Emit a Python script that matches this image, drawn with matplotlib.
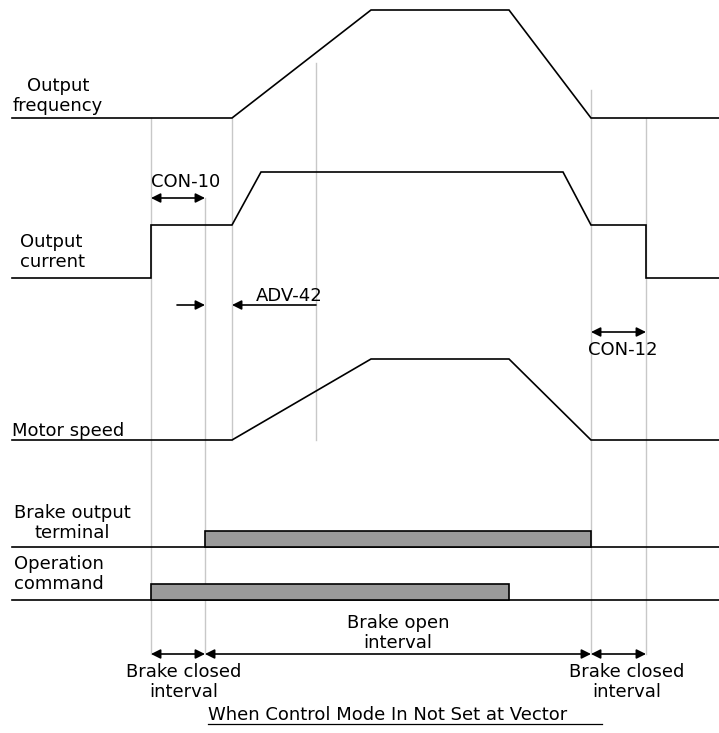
import matplotlib
matplotlib.use("Agg")
import matplotlib.pyplot as plt
from matplotlib.patches import FancyArrowPatch, Rectangle

# Event times along the time axis
t_run_on = 151      # operation command on / current applied
t_brake_open = 205  # brake output on
t_accel = 232       # start of acceleration
t_cur_up = 261      # current reaches full
t_adv = 316         # ADV-42 marker
t_top = 371         # reaches top speed
t_run_off = 509     # operation command off, start decel
t_cur_down = 563    # current starts dropping
t_stop = 591        # zero speed, brake closes
t_off = 646         # current removed
x_start, x_end = 12, 719

# Signal shapes (time, level 0..1)
freq_t = [x_start, t_accel, t_top, t_run_off, t_stop, x_end]
freq_v = [0, 0, 1, 1, 0, 0]
cur_t = [x_start, t_run_on, t_run_on, t_accel, t_cur_up, t_cur_down, t_stop, t_off, t_off, x_end]
cur_v = [0, 0, 0.5, 0.5, 1, 1, 0.5, 0.5, 0, 0]
spd_t = [x_start, t_accel, t_top, t_run_off, t_stop, x_end]
spd_v = [0, 0, 1, 1, 0, 0]

# Rows: baseline and full-scale height
rows = {
    "freq": (118, 108),
    "cur": (278, 106),
    "spd": (440, 81),
    "brake": (547, 16),
    "cmd": (600, 16),
}

fig = plt.figure(figsize=(7.19, 7.33), dpi=100)
ax = fig.add_axes([0, 0, 1, 1])
ax.set_xlim(0, 719)
ax.set_ylim(733, 0)
ax.axis("off")

gray = "#c8c8c8"
lw = 1.2
fs = 13

# vertical guide lines (x, y_top, y_bottom)
guides = [
    (t_run_on, 118, 654),
    (t_brake_open, 198, 654),
    (t_accel, 118, 440),
    (t_adv, 63, 440),
    (t_stop, 90, 654),
    (t_off, 118, 654),
]
for gx, y0, y1 in guides:
    ax.plot([gx, gx], [y0, y1], color=gray, lw=1.0, zorder=1)

def plot_sig(ts, vs, row):
    base, h = rows[row]
    ax.plot(ts, [base - v * h for v in vs], color="black", lw=lw, zorder=3,
            solid_joinstyle="miter")

plot_sig(freq_t, freq_v, "freq")
plot_sig(cur_t, cur_v, "cur")
plot_sig(spd_t, spd_v, "spd")

# digital signals as filled bars
for row, (a, b) in [("brake", (t_brake_open, t_stop)), ("cmd", (t_run_on, t_run_off))]:
    base, h = rows[row]
    ax.plot([x_start, x_end], [base, base], color="black", lw=lw, zorder=2)
    ax.add_patch(Rectangle((a, base - h), b - a, h, facecolor="#9a9a9a",
                           edgecolor="black", lw=lw, zorder=3))

def arrow(x0, x1, y, style):
    ax.add_patch(FancyArrowPatch((x0, y), (x1, y), arrowstyle=style,
                                 mutation_scale=14, color="black", lw=lw,
                                 shrinkA=0, shrinkB=0, zorder=4))

arrow(t_run_on, t_brake_open, 198, "<|-|>")
arrow(177, t_brake_open, 305, "-|>")
arrow(t_adv, t_accel, 305, "-|>")
arrow(t_stop, t_off, 332, "<|-|>")
arrow(t_run_on, t_brake_open, 654, "<|-|>")
arrow(t_brake_open, t_stop, 654, "<|-|>")
arrow(t_stop, t_off, 654, "<|-|>")

# labels
ax.text(151, 182, "CON-10", fontsize=fs, va="center", ha="left")
ax.text(256, 296, "ADV-42", fontsize=fs, va="center", ha="left")
ax.text(623, 350, "CON-12", fontsize=fs, va="center", ha="center")

ax.text(58, 96, "Output\nfrequency", fontsize=fs, va="center", ha="center",
        linespacing=1.2)
ax.text(20, 252, "Output\ncurrent", fontsize=fs, va="center", ha="left",
        linespacing=1.2)
ax.text(12, 431, "Motor speed", fontsize=fs, va="center", ha="left")
ax.text(72, 523, "Brake output\nterminal", fontsize=fs, va="center", ha="center",
        linespacing=1.2)
ax.text(14, 574, "Operation\ncommand", fontsize=fs, va="center", ha="left",
        linespacing=1.2)

ax.text(184, 682, "Brake closed\ninterval", fontsize=fs, va="center", ha="center",
        linespacing=1.2)
ax.text(398, 633, "Brake open\ninterval", fontsize=fs, va="center", ha="center",
        linespacing=1.2)
ax.text(627, 682, "Brake closed\ninterval", fontsize=fs, va="center", ha="center",
        linespacing=1.2)

ax.text(208, 715, "When Control Mode In Not Set at Vector", fontsize=fs,
        va="center", ha="left")
ax.plot([208, 602], [724, 724], color="black", lw=0.9)

fig.savefig("out.png", dpi=100)
